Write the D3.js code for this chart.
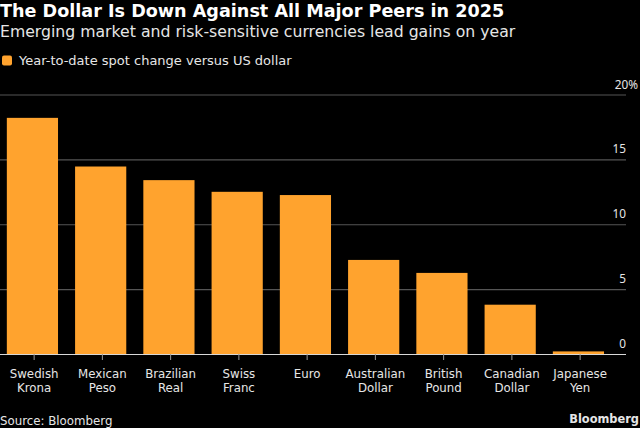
<!DOCTYPE html>
<html lang="en">
<head>
<meta charset="utf-8">
<style>
    html, body { margin: 0; padding: 0; background: #000; }
    svg { display: block; }
    text { font-family: "DejaVu Sans", sans-serif; }
    .domain { display: none; }
</style>
</head>
<body>
<div id="my_dataviz"></div>
<script src="https://d3js.org/d3.v7.min.js"></script>
<script>
// data
var categories = [["Swedish", "Krona"], ["Mexican", "Peso"], ["Brazilian", "Real"], ["Swiss", "Franc"], ["Euro"],
    ["Australian", "Dollar"], ["British", "Pound"], ["Canadian", "Dollar"], ["Japanese", "Yen"]];
var values = [18.2, 14.45, 13.4, 12.5, 12.25, 7.25, 6.25, 3.8, 0.2];
var yTicks = [0, 5, 10, 15, 20];

var width = 640, height = 428;
var svg = d3.select("#my_dataviz").append("svg")
    .attr("width", width)
    .attr("height", height)
    .style("background", "#000");

var names = categories.map(function (d) { return d.join(" "); });

// ticks sit a little to the right of the bar centres in the original
var x = d3.scaleBand()
    .domain(names)
    .range([0, 614.25])
    .paddingInner(0.25)
    .paddingOuter(0.125);
var xBar = x.copy().range([-1.7, 612.55]);

var y = d3.scaleLinear()
    .domain([0, 20])
    .range([354, 94.5]);

// gridlines + right hand labels
var grid = svg.append("g").attr("transform", "translate(626,0)")
    .call(d3.axisRight(y).tickValues(yTicks).tickSize(-626).tickFormat(function (d) { return d === 20 ? "20%" : d; }));
grid.selectAll("line").attr("stroke", function (d) { return d === 0 ? "#d8d8d8" : "#555"; }).attr("stroke-width", 1.2);
grid.selectAll("text")
    .attr("fill", "#e6e6e6")
    .style("font-family", '"Noto Sans", sans-serif')
    .style("font-size", "11.8px")
    .attr("text-anchor", "end")
    .attr("x", function (d) { return d === 20 ? 12 : 0; })
    .attr("dy", "-0.55em");

// bars
svg.selectAll("rect.bar")
    .data(values)
    .enter()
    .append("rect")
    .attr("class", "bar")
    .attr("x", function (d, i) { return xBar(names[i]); })
    .attr("y", function (d) { return y(d); })
    .attr("width", xBar.bandwidth())
    .attr("height", function (d) { return y(0) - y(d); })
    .attr("fill", "#ffa32e");

// x axis, ticks below the baseline
var xAxis = svg.append("g").attr("transform", "translate(0,354)")
    .call(d3.axisBottom(x).tickSize(6).tickFormat(""));
xAxis.selectAll("line").attr("stroke", "#999");
xAxis.selectAll("g.tick").each(function (d) {
    var lines = d.split(" ");
    var t = d3.select(this).append("text")
        .attr("fill", "#e6e6e6")
        .attr("text-anchor", "middle")
        .style("font-size", "11.8px");
    lines.forEach(function (s, i) {
        t.append("tspan").attr("x", 0).attr("y", 24 + i * 13.5).text(s);
    });
});

// title block
svg.append("text").attr("x", 0).attr("y", 17).attr("fill", "#fff")
    .style("font-size", "17.6px").style("font-weight", "bold")
    .text("The Dollar Is Down Against All Major Peers in 2025");
svg.append("text").attr("x", 0).attr("y", 37).attr("fill", "#e6e6e6")
    .style("font-size", "15.7px")
    .text("Emerging market and risk-sensitive currencies lead gains on year");

// legend
svg.append("rect").attr("x", 2).attr("y", 55.5).attr("width", 10).attr("height", 10).attr("rx", 2).attr("fill", "#ffa32e");
svg.append("text").attr("x", 19).attr("y", 65).attr("fill", "#e6e6e6")
    .style("font-size", "13px")
    .text("Year-to-date spot change versus US dollar");

// footer
svg.append("text").attr("x", 0).attr("y", 425).attr("fill", "#e6e6e6")
    .style("font-size", "11.8px")
    .text("Source: Bloomberg");
svg.append("text").attr("x", 639).attr("y", 423).attr("fill", "#e6e6e6")
    .attr("text-anchor", "end")
    .style("font-size", "11.4px").style("font-weight", "bold")
    .text("Bloomberg");
</script>
</body>
</html>
